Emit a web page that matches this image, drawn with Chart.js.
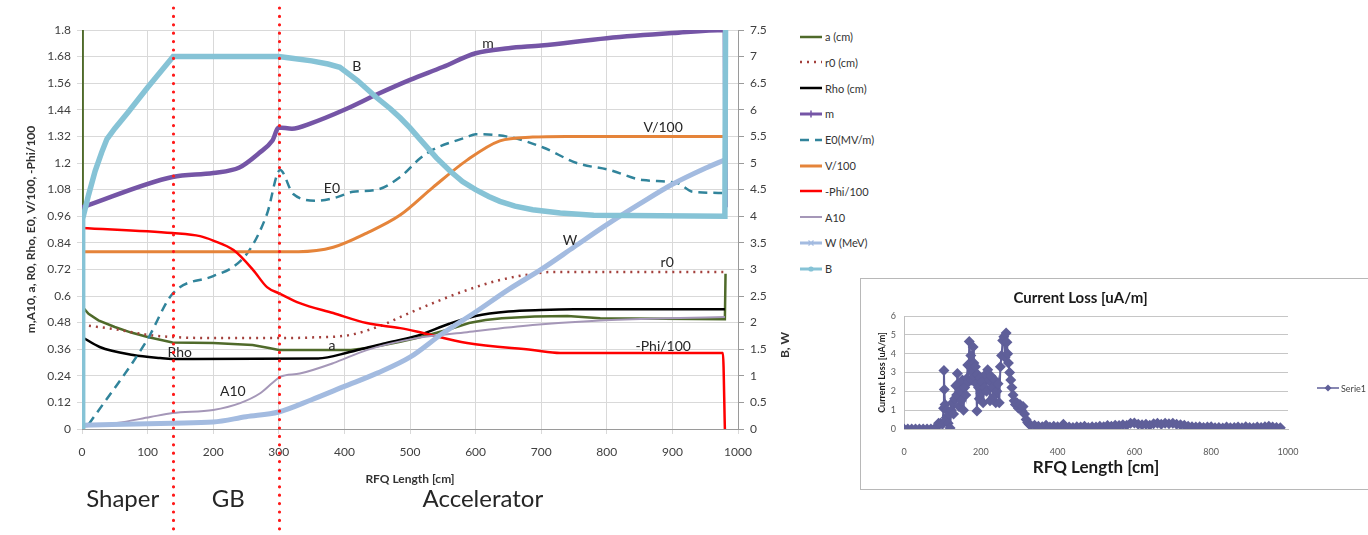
<!DOCTYPE html>
<html>
<head>
<meta charset="utf-8">
<title>RFQ design parameters</title>
<script src="https://cdn.jsdelivr.net/npm/chart.js@4.4.1/dist/chart.umd.min.js"></script>
<style>
  html, body { margin: 0; padding: 0; background: #fff; overflow: hidden; }
  body { width: 1368px; height: 535px; position: relative; font-family: Lato, sans-serif; }
  #main { position: absolute; left: 0; top: 0; }
  #legend { position: absolute; left: 800px; top: 0; width: 100px; height: 290px; }
  .item { position: absolute; left: 0; height: 14px; display: flex; align-items: center;
          font-size: 11px; color: #333; white-space: nowrap; }
  .item svg { margin-right: 3px; }
  #lossBox { position: absolute; left: 860px; top: 278px; width: 530px; height: 210px;
             border: 1px solid #b8b8b8; }
  #loss { position: absolute; left: 0; top: 0; }
  #lossLegend { position: absolute; left: 1317px; top: 381px; height: 14px; display: flex;
                align-items: center; font-size: 9px; color: #444; }
</style>
</head>
<body>
<canvas id="main" width="800" height="535"></canvas>
<div id="legend"></div>
<div id="lossBox"><canvas id="loss" width="508" height="210"></canvas></div>
<div id="lossLegend"></div>

<script>
// ---------- main chart: tick labels ----------
const xTicks = [0, 100, 200, 300, 400, 500, 600, 700, 800, 900, 1000];
const leftTicks = [0, 0.12, 0.24, 0.36, 0.48, 0.6, 0.72, 0.84, 0.96, 1.08, 1.2, 1.32, 1.44, 1.56, 1.68, 1.8];
const rightTicks = [0, 0.5, 1, 1.5, 2, 2.5, 3, 3.5, 4, 4.5, 5, 5.5, 6, 6.5, 7, 7.5];

// ---------- main chart: series (x = RFQ length in cm) ----------
const aX = [0, 1, 10, 25, 50, 75, 100, 138, 200, 260, 285, 300, 410, 435, 460, 485, 510, 535, 560, 590, 615, 640, 690, 740, 790, 980, 981];
const aY = [1.8, 0.55, 0.52, 0.49, 0.46, 0.435, 0.415, 0.39, 0.388, 0.379, 0.365, 0.356, 0.356, 0.365, 0.379, 0.393, 0.41, 0.43, 0.45, 0.478, 0.492, 0.5, 0.507, 0.51, 0.5, 0.495, 0.7];

const r0X = [0, 50, 100, 138, 200, 300, 350, 408, 459, 485, 535, 587, 637, 687, 714, 980];
const r0Y = [0.47, 0.45, 0.425, 0.415, 0.41, 0.41, 0.413, 0.424, 0.47, 0.505, 0.568, 0.627, 0.672, 0.7, 0.708, 0.708];

const rhoX = [0, 27, 78, 119, 138, 360, 408, 459, 510, 560, 600, 650, 700, 750, 980];
const rhoY = [0.415, 0.37, 0.334, 0.32, 0.316, 0.318, 0.347, 0.385, 0.42, 0.475, 0.51, 0.53, 0.537, 0.54, 0.54];

const mX = [0, 138, 200, 240, 270, 290, 300, 320, 350, 400, 450, 500, 550, 600, 650, 700, 800, 900, 980, 981];
const mY = [1.0, 1.137, 1.155, 1.18, 1.245, 1.3, 1.36, 1.355, 1.38, 1.44, 1.51, 1.575, 1.633, 1.695, 1.718, 1.73, 1.763, 1.786, 1.8, 1.0];

const e0X = [10, 99, 138, 200, 230, 256, 282, 302, 322, 358, 389, 413, 450, 485, 515, 535, 587, 600, 652, 703, 754, 805, 855, 907, 931, 977];
const e0Y = [0.02, 0.4, 0.61, 0.69, 0.73, 0.81, 0.97, 1.168, 1.06, 1.03, 1.046, 1.07, 1.08, 1.137, 1.22, 1.26, 1.317, 1.33, 1.317, 1.27, 1.2, 1.168, 1.123, 1.11, 1.07, 1.065];

const vX = [0, 330, 383, 434, 485, 535, 587, 637, 687, 738, 980];
const vY = [0.8, 0.8, 0.82, 0.884, 0.965, 1.09, 1.213, 1.3, 1.317, 1.32, 1.32];

const phiX = [0, 138, 180, 200, 231, 261, 282, 302, 332, 383, 434, 485, 510, 587, 687, 729, 977, 980];
const phiY = [0.907, 0.884, 0.87, 0.85, 0.807, 0.717, 0.64, 0.61, 0.568, 0.523, 0.478, 0.455, 0.44, 0.388, 0.356, 0.343, 0.343, 0];

const a10X = [0, 53, 104, 138, 200, 241, 271, 291, 302, 332, 383, 434, 510, 587, 687, 790, 892, 980];
const a10Y = [0.01, 0.027, 0.054, 0.072, 0.086, 0.117, 0.16, 0.21, 0.235, 0.25, 0.297, 0.356, 0.41, 0.437, 0.469, 0.49, 0.5, 0.505];

// right axis (B, W)
const wX = [0, 138, 200, 250, 300, 350, 400, 450, 500, 550, 600, 650, 700, 750, 800, 850, 900, 950, 980];
const wY = [0.07, 0.11, 0.13, 0.23, 0.32, 0.55, 0.8, 1.05, 1.35, 1.8, 2.2, 2.62, 3.0, 3.42, 3.84, 4.23, 4.6, 4.9, 5.06];

const bX = [0, 1, 10, 20, 30, 38, 50, 70, 100, 139, 300, 320, 350, 375, 393, 420, 448, 470, 485, 500, 515, 540, 561, 580, 600, 620, 637, 660, 687, 729, 780, 980, 981];
const bY = [0, 3.95, 4.4, 4.85, 5.2, 5.45, 5.65, 5.95, 6.42, 7.0, 7.0, 6.97, 6.92, 6.86, 6.8, 6.55, 6.24, 6.02, 5.85, 5.66, 5.45, 5.1, 4.85, 4.65, 4.5, 4.37, 4.28, 4.19, 4.12, 4.06, 4.02, 4.0, 7.5];

// curve name labels (data units, left axis)
const curveLabelText = ['B', 'm', 'V/100', 'E0', 'W', 'r0', '-Phi/100', 'Rho', 'a', 'A10'];
const curveLabelX = [419, 619, 886, 381, 744, 892, 886, 149, 381, 230];
const curveLabelY = [1.637, 1.737, 1.362, 1.087, 0.852, 0.753, 0.37, 0.343, 0.379, 0.167];

// RFQ sections
const sectionEdges = [139, 300];
const sectionNames = ['Shaper', 'GB', 'Accelerator'];
const sectionCenters = [62, 223, 611];

// ---------- current loss inset ----------
const lossTicksX = [0, 200, 400, 600, 800, 1000];
const lossTicksY = [0, 1, 2, 3, 4, 5, 6];
const lossX = [0, 10, 20, 30, 40, 50, 60, 70, 80, 85, 90, 95, 100, 103, 104, 105, 107, 110, 112, 115, 118, 120,
  123, 126, 129, 132, 135, 137, 139, 141, 143, 146, 149, 152, 155, 158, 161, 164, 166, 168, 170, 172, 174, 176,
  178, 180, 182, 184, 186, 188, 190, 192, 194, 196, 198, 200, 203, 206, 209, 212, 215, 218, 221, 224, 227, 230,
  233, 236, 239, 242, 245, 248, 251, 254, 257, 260, 263, 266, 268, 270, 272, 275, 278, 281, 284, 287, 290, 294,
  298, 302, 306, 310, 314, 318, 322, 326, 330, 340, 350, 360, 370, 380, 390, 400, 410, 415, 420, 430, 440, 450,
  460, 470, 480, 490, 500, 510, 520, 530, 540, 550, 560, 570, 580, 590, 600, 610, 620, 630, 640, 650, 660, 670,
  680, 690, 700, 710, 720, 730, 740, 750, 760, 770, 780, 790, 800, 810, 820, 830, 840, 850, 860, 870, 880, 890,
  900, 910, 920, 930, 940, 950, 960, 970, 980];
const lossY = [0, 0, 0, 0, 0, 0, 0, 0, 0.02, 0.1, 0.3, 0.3, 0.25, 1.1, 3.1, 2.1, 1.3, 0.6, 1.0, 0.3, 0.8, 0.05,
  1.0, 1.4, 0.8, 1.6, 2.3, 1.8, 2.95, 2.4, 1.2, 2.0, 1.5, 2.6, 1.0, 2.2, 1.8, 2.7, 3.4, 2.5, 4.65, 3.3, 3.9, 2.6,
  3.0, 4.35, 3.5, 2.8, 3.3, 2.4, 0.95, 2.9, 2.2, 1.6, 2.7, 1.9, 2.5, 1.4, 2.2, 2.9, 2.0, 3.15, 2.6, 1.5, 2.8, 2.2,
  1.7, 2.6, 1.4, 2.0, 2.4, 1.4, 3.3, 3.9, 4.7, 4.9, 3.8, 5.1, 4.6, 4.0, 3.5, 3.0, 2.6, 2.2, 1.8, 1.5, 1.3, 1.4,
  1.1, 1.3, 1.0, 1.2, 0.8, 0.5, 0.35, 0.25, 0.2, 0.2, 0.15, 0.12, 0.2, 0.1, 0.15, 0.12, 0.08, 0.25, 0.12, 0.1, 0.08, 0.12,
  0.1, 0.15, 0.08, 0.12, 0.1, 0.15, 0.12, 0.18, 0.15, 0.2, 0.18, 0.22, 0.2, 0.3, 0.32, 0.25, 0.22, 0.25, 0.2, 0.28, 0.3, 0.25,
  0.3, 0.28, 0.3, 0.25, 0.22, 0.2, 0.15, 0.12, 0.1, 0.12, 0.08, 0.1, 0.12, 0.06, 0.08, 0.05, 0.1, 0.06, 0.08, 0.1, 0.06, 0.12,
  0.08, 0.06, 0.1, 0.08, 0.12, 0.15, 0.1, 0.08, 0.06];

const pts = (xs, ys) => xs.map((x, i) => ({ x, y: ys[i] }));

Chart.defaults.font.family = 'Lato';
Chart.defaults.color = '#404040';

// a and B start/end with vertical jumps, so they are drawn as straight segments
const straight = { cubicInterpolationMode: 'default', tension: 0 };

const series = [
    { label: 'a (cm)',    data: pts(aX, aY),     borderColor: '#4f6a2a', borderWidth: 2.5, ...straight },
    { label: 'r0 (cm)',   data: pts(r0X, r0Y),   borderColor: '#a3403c', borderWidth: 2.5, borderDash: [2, 5] },
    { label: 'Rho (cm)',  data: pts(rhoX, rhoY), borderColor: '#000000', borderWidth: 2.5 },
    { label: 'm',         data: pts(mX, mY),     borderColor: '#7555a6', borderWidth: 4.5, marker: 'plus' },
    { label: 'E0(MV/m)',  data: pts(e0X, e0Y),   borderColor: '#31849b', borderWidth: 2.5, borderDash: [9, 6] },
    { label: 'V/100',     data: pts(vX, vY),     borderColor: '#e5843a', borderWidth: 3 },
    { label: '-Phi/100',  data: pts(phiX, phiY), borderColor: '#ff0000', borderWidth: 2.5 },
    { label: 'A10',       data: pts(a10X, a10Y), borderColor: '#a597b8', borderWidth: 2 },
    { label: 'W (MeV)',   data: pts(wX, wY),     borderColor: '#a3bbe0', borderWidth: 5, yAxisID: 'y2', marker: 'cross' },
    { label: 'B',         data: pts(bX, bY),     borderColor: '#86c3d6', borderWidth: 5.5, yAxisID: 'y2', marker: 'circle', ...straight }
];

const datasets = series.map((s, i) => ({
    yAxisID: 'y',
    pointRadius: 0,
    cubicInterpolationMode: 'monotone',
    fill: false,
    order: series.length - i,
    ...s
}));

/**
 * Draws curve names, the RFQ section borders and labels, and the right axis title
 */
const overlay = {
    id: 'overlay',
    afterDatasetsDraw(chart) {
        const { ctx, scales: { x, y } } = chart;
        ctx.save();
        ctx.font = '14px Lato';
        ctx.fillStyle = '#262626';
        ctx.textAlign = 'center';
        ctx.textBaseline = 'middle';
        curveLabelText.forEach((t, i) => {
            ctx.fillText(t, x.getPixelForValue(curveLabelX[i]), y.getPixelForValue(curveLabelY[i]));
        });
        ctx.restore();
    },
    afterDraw(chart) {
        const { ctx, chartArea, scales: { x } } = chart;
        ctx.save();

        // section names under the axis
        ctx.font = '24px Lato';
        ctx.fillStyle = '#262626';
        ctx.textAlign = 'center';
        ctx.textBaseline = 'middle';
        sectionNames.forEach((t, i) => {
            ctx.fillText(t, x.getPixelForValue(sectionCenters[i]), chartArea.bottom + 70);
        });

        // red dotted section borders
        ctx.strokeStyle = '#ff1a1a';
        ctx.lineWidth = 3.2;
        ctx.lineCap = 'round';
        ctx.setLineDash([0, 8.4]);
        sectionEdges.forEach(v => {
            const px = Math.round(x.getPixelForValue(v)) + 0.5;
            ctx.beginPath();
            ctx.moveTo(px, 8);
            ctx.lineTo(px, chart.height);
            ctx.stroke();
        });
        ctx.setLineDash([]);

        // right axis title, reading upwards like the left one
        ctx.translate(785, 345);
        ctx.rotate(-Math.PI / 2);
        ctx.font = 'bold 12px Lato';
        ctx.fillStyle = '#333';
        ctx.fillText('B, W', 0, 0);
        ctx.restore();
    }
};

const fixedTicks = list => scale => { scale.ticks = list.map(value => ({ value })); };

new Chart(document.getElementById('main'), {
    type: 'line',
    data: { datasets },
    options: {
        responsive: false,
        animation: false,
        layout: { padding: { left: 20, top: 30, right: 0, bottom: 46 } },
        plugins: { legend: { display: false }, tooltip: { enabled: false } },
        scales: {
            x: {
                type: 'linear',
                min: 0,
                max: 1000,
                afterBuildTicks: fixedTicks(xTicks),
                afterFit: scale => { scale.height = 60; },
                grid: { color: '#d9d9d9', tickLength: 5 },
                border: { color: '#9a9a9a' },
                ticks: { padding: 11, font: { size: 12 }, callback: v => String(v) },
                title: { display: true, text: 'RFQ Length [cm]', color: '#333',
                         font: { size: 12, weight: 'bold' }, padding: { top: 0, bottom: 3 } }
            },
            y: {
                position: 'left',
                min: 0,
                max: 1.8,
                afterBuildTicks: fixedTicks(leftTicks),
                afterFit: scale => { scale.width = 62; },
                grid: { color: '#d9d9d9', tickLength: 5 },
                border: { color: '#9a9a9a' },
                ticks: { padding: 6, font: { size: 12 }, callback: v => String(+v.toFixed(2)) },
                title: { display: true, text: 'm,A10, a, R0, Rho, E0, V/100, -Phi/100', color: '#333',
                         font: { size: 12, weight: 'bold' }, padding: { top: 4, bottom: 0 } }
            },
            y2: {
                position: 'right',
                min: 0,
                max: 7.5,
                afterBuildTicks: fixedTicks(rightTicks),
                afterFit: scale => { scale.width = 62; },
                grid: { drawOnChartArea: false, color: '#9a9a9a', tickLength: 6 },
                border: { color: '#9a9a9a' },
                ticks: { padding: 6, font: { size: 12 }, callback: v => String(v) }
            }
        }
    },
    plugins: [overlay]
});

// legend with line samples
function lineIcon(s, width) {
    const dash = s.borderDash ? `stroke-dasharray="${s.borderDash.join(' ')}"` : '';
    const w = Math.min(s.borderWidth, 3);
    let mark = '';
    if (s.marker === 'plus') mark = `<line x1="11" y1="1.5" x2="11" y2="8.5" stroke="${s.borderColor}" stroke-width="1.5"/>`;
    if (s.marker === 'cross') mark = `<path d="M8.5 2.5 L13.5 7.5 M13.5 2.5 L8.5 7.5" stroke="${s.borderColor}" stroke-width="1.3"/>`;
    if (s.marker === 'circle') mark = `<circle cx="11" cy="5" r="2.6" fill="${s.borderColor}"/>`;
    return `<svg width="${width}" height="10"><line x1="0" y1="5" x2="${width}" y2="5" stroke="${s.borderColor}" stroke-width="${w}" ${dash}/>${mark}</svg>`;
}

const legendEl = document.getElementById('legend');
series.forEach((s, i) => {
    const item = document.createElement('div');
    item.className = 'item';
    item.style.top = (36.5 + i * 25.8 - 7) + 'px';
    item.innerHTML = lineIcon(s, 22) + '<span>' + s.label + '</span>';
    legendEl.appendChild(item);
});

// ---------- inset: current loss ----------
const lossColor = '#5f5f99';

new Chart(document.getElementById('loss'), {
    type: 'line',
    data: {
        datasets: [{
            label: 'Serie1',
            data: pts(lossX, lossY),
            borderColor: lossColor,
            backgroundColor: lossColor,
            borderWidth: 2,
            pointStyle: 'rectRot',
            pointRadius: 5.5,
            pointBorderWidth: 0,
            tension: 0
        }]
    },
    options: {
        responsive: false,
        animation: false,
        layout: { padding: { left: 12, right: 81, top: 0, bottom: 0 } },
        plugins: {
            legend: { display: false },
            tooltip: { enabled: false },
            title: { display: true, text: 'Current Loss [uA/m]', color: '#1a1a1a',
                     font: { size: 15, weight: 'bold' }, padding: { top: 10, bottom: 9 } }
        },
        scales: {
            x: {
                type: 'linear',
                min: 0,
                max: 1000,
                afterBuildTicks: fixedTicks(lossTicksX),
                afterFit: scale => { scale.height = 60; },
                grid: { display: false },
                border: { color: '#bfbfbf' },
                ticks: { padding: 10, color: '#595959', font: { size: 9 }, callback: v => String(v) },
                title: { display: true, text: 'RFQ Length [cm]', color: '#1a1a1a',
                         font: { size: 17, weight: 'bold' }, padding: { top: 0, bottom: 11 } }
            },
            y: {
                min: 0,
                max: 6,
                afterBuildTicks: fixedTicks(lossTicksY),
                afterFit: scale => { scale.width = 31; },
                grid: { color: '#c6c6c6', drawTicks: false },
                border: { color: '#bfbfbf' },
                ticks: { padding: 8, color: '#595959', font: { size: 9 }, callback: v => String(v) },
                title: { display: true, text: 'Current Loss [uA/m]', color: '#1a1a1a',
                         font: { size: 9, weight: 'bold' }, padding: { top: 4, bottom: 0 } }
            }
        }
    }
});

document.getElementById('lossLegend').innerHTML =
    `<svg width="22" height="10"><line x1="0" y1="5" x2="22" y2="5" stroke="${lossColor}" stroke-width="1.5"/>` +
    `<path d="M11 1.5 L14.5 5 L11 8.5 L7.5 5 Z" fill="${lossColor}"/></svg><span style="margin-left:2px">Serie1</span>`;
</script>
</body>
</html>
